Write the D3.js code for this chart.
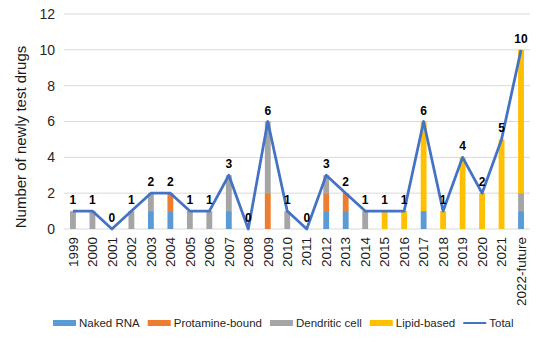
<!DOCTYPE html>
<html>
<head>
<meta charset="utf-8">
<script src="https://cdn.jsdelivr.net/npm/d3@7"></script>
<style>
  body { margin: 0; background: #fff; }
  text { font-family: "Liberation Sans", Arial, sans-serif; }
</style>
</head>
<body>
<div id="chart"></div>
<script>
const years = ["1999", "2000", "2001", "2002", "2003", "2004", "2005", "2006", "2007", "2008", "2009", "2010",
  "2011", "2012", "2013", "2014", "2015", "2016", "2017", "2018", "2019", "2020", "2021", "2022-future"];
const nakedRNA      = [0, 0, 0, 0, 1, 1, 0, 0, 1, 0, 0, 0, 0, 1, 1, 0, 0, 0, 1, 0, 0, 0, 0, 1];
const protamine     = [0, 0, 0, 0, 0, 1, 0, 0, 0, 0, 2, 0, 0, 1, 1, 0, 0, 0, 0, 0, 0, 0, 0, 0];
const dendritic     = [1, 1, 0, 1, 1, 0, 1, 1, 2, 0, 4, 1, 0, 1, 0, 1, 0, 0, 0, 0, 0, 0, 0, 1];
const lipid         = [0, 0, 0, 0, 0, 0, 0, 0, 0, 0, 0, 0, 0, 0, 0, 0, 1, 1, 5, 1, 4, 2, 5, 8];
const yTicks = [0, 2, 4, 6, 8, 10, 12];

const seriesNames = ["Naked RNA", "Protamine-bound", "Dendritic cell", "Lipid-based"];
const colors = ["#5B9BD5", "#ED7D31", "#A5A5A5", "#FFC000"];
const lineColor = "#4472C4";

const W = 539, H = 342;
const margin = { top: 14, right: 9, bottom: 113, left: 64 };
const width = W - margin.left - margin.right;
const height = H - margin.top - margin.bottom;

const rows = years.map((y, i) => ({
  year: y,
  "Naked RNA": nakedRNA[i],
  "Protamine-bound": protamine[i],
  "Dendritic cell": dendritic[i],
  "Lipid-based": lipid[i]
}));
rows.forEach(r => r.total = seriesNames.reduce((s, k) => s + r[k], 0));

const svg = d3.select("#chart").append("svg")
  .attr("width", W).attr("height", H);
const g = svg.append("g").attr("transform", `translate(${margin.left},${margin.top})`);

const x = d3.scaleBand().domain(years).range([0, width]).paddingInner(0.7).paddingOuter(0.31);
const y = d3.scaleLinear().domain([0, 12]).range([height, 0]);

// grid lines
g.append("g").selectAll("line").data(yTicks).enter().append("line")
  .attr("x1", 0).attr("x2", width)
  .attr("y1", d => y(d)).attr("y2", d => y(d))
  .attr("stroke", "#D9D9D9").attr("stroke-width", 1);

// y axis
const yAxis = g.append("g").call(d3.axisLeft(y).tickValues(yTicks).tickSize(0).tickPadding(9));
yAxis.select(".domain").remove();
yAxis.selectAll("text").style("font-size", "14px").attr("fill", "#262626");

// x axis
const xAxis = g.append("g").attr("transform", `translate(0,${height})`)
  .call(d3.axisBottom(x).tickSize(0).tickPadding(6));
xAxis.select(".domain").remove();
xAxis.selectAll("text")
  .attr("transform", "rotate(-90)")
  .attr("x", -8).attr("y", 0).attr("dy", "0.35em")
  .style("text-anchor", "end")
  .style("font-size", "13.5px")
  .attr("fill", "#1a1a1a");

// y label
svg.append("text")
  .attr("transform", `translate(21,${137}) rotate(-90)`)
  .attr("dy", "0.35em")
  .style("text-anchor", "middle")
  .style("font-size", "15px")
  .attr("fill", "#1a1a1a")
  .text("Number of newly test drugs");

// stacked bars
const stack = d3.stack().keys(seriesNames)(rows);
g.selectAll(".series").data(stack).enter().append("g")
  .attr("fill", (d, i) => colors[i])
  .selectAll("rect").data(d => d).enter().append("rect")
  .attr("x", d => x(d.data.year))
  .attr("width", x.bandwidth())
  .attr("y", d => y(d[1]))
  .attr("height", d => y(d[0]) - y(d[1]));

// total line
const line = d3.line()
  .x(d => x(d.year) + x.bandwidth() / 2)
  .y(d => y(d.total));
g.append("path").datum(rows)
  .attr("d", line)
  .attr("fill", "none")
  .attr("stroke", lineColor)
  .attr("stroke-width", 2.75)
  .attr("stroke-linejoin", "round");

// total labels
g.selectAll(".lbl").data(rows).enter().append("text")
  .attr("x", d => x(d.year) + x.bandwidth() / 2)
  .attr("y", d => y(d.total) - 7)
  .style("text-anchor", "middle")
  .style("font-size", "12px")
  .style("font-weight", "bold")
  .attr("fill", "#000")
  .text(d => d.total);

// legend
const legend = svg.append("g").attr("transform", "translate(53,323)");
const items = seriesNames.concat(["Total"]);
let lx = 0;
items.forEach((name, i) => {
  const it = legend.append("g").attr("transform", `translate(${lx},0)`);
  if (i < 4) {
    it.append("rect").attr("x", 0).attr("y", -3).attr("width", 23).attr("height", 6).attr("fill", colors[i]);
  } else {
    it.append("line").attr("x1", 0).attr("x2", 23).attr("y1", 0).attr("y2", 0)
      .attr("stroke", lineColor).attr("stroke-width", 2);
  }
  const t = it.append("text").attr("x", 26).attr("y", 0).attr("dy", "0.35em")
    .style("font-size", "11.5px").attr("fill", "#262626").text(name);
  lx += 26 + t.node().getComputedTextLength() + 8;
});
</script>
</body>
</html>
